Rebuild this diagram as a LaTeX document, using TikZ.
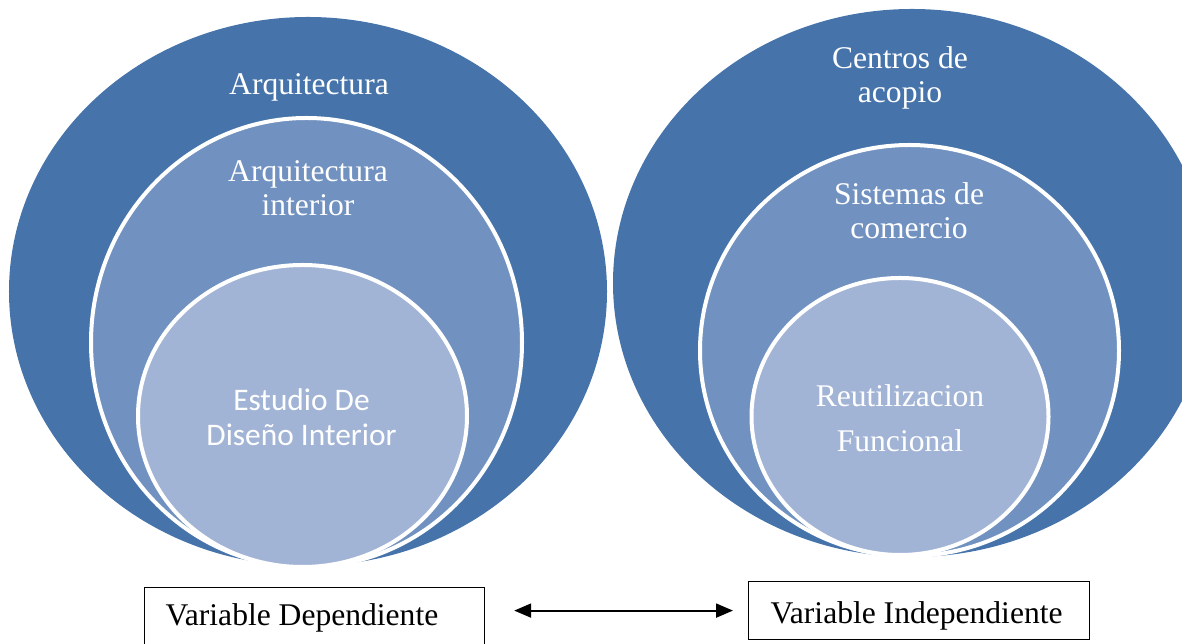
\documentclass[tikz,border=0pt]{standalone}
\usepackage{fontspec}
\setmainfont{Liberation Serif}
\newfontfamily\calibri{Carlito}
\usetikzlibrary{arrows.meta}
\definecolor{ringdark}{RGB}{70,116,170}
\definecolor{ringmid}{RGB}{113,146,193}
\definecolor{ringlight}{RGB}{162,180,213}

\begin{document}
\begin{tikzpicture}[x=1bp,y=1bp,
	ring/.style={fill=#1,draw=white,line width=4bp},
	lbl/.style={text=white,align=center,inner sep=0pt,font=\fontsize{31.7}{34}\selectfont},
	varbox/.style={draw=black,line width=1.2bp,anchor=north west,inner ysep=0pt,font=\fontsize{31.7}{34}\selectfont}]
	\clip (0,0) rectangle (1182,644);
	\fill[ringdark] (308,352.5) ellipse [x radius=299bp,y radius=274.5bp];
	\filldraw[ring=ringmid] (306.5,301.5) ellipse [x radius=215.5bp,y radius=224.5bp];
	\filldraw[ring=ringlight] (302.5,228) ellipse [x radius=164.5bp,y radius=151bp];
	\fill[ringdark] (912,361) ellipse [x radius=299bp,y radius=274bp];
	\filldraw[ring=ringmid] (909.5,293.5) ellipse [x radius=209.5bp,y radius=205.5bp];
	\filldraw[ring=ringlight] (900,227.5) ellipse [x radius=148.5bp,y radius=138.5bp];
	\node[lbl] (arq) at (309,557) {Arquitectura};
	\node[lbl] (arqint) at (308,456) {Arquitectura\\interior};
	\node[lbl,font=\calibri\fontsize{31.5}{35}\selectfont] (estudio) at (301.5,226.5) {Estudio De\\Diseño Interior};
	\node[lbl] (centros) at (900,566) {Centros de\\acopio};
	\node[lbl] (sistemas) at (909,433.5) {Sistemas de\\comercio};
	\node[lbl,font=\fontsize{31.7}{45}\selectfont] (reutil) at (900,225.5) {Reutilizacion\\Funcional};
	\node[varbox,inner xsep=21bp,text height=38bp,text depth=30bp] (dep) at (144,57) {\makebox[298bp][l]{Variable Dependiente}};
	\node[varbox,inner xsep=22bp,text height=42bp,text depth=16bp] (indep) at (748,63) {\makebox[297bp][l]{Variable Independiente}};
	\draw[line width=2bp,{Triangle[length=17bp,width=14bp]}-{Triangle[length=17bp,width=14bp]},shorten <=29bp,shorten >=15bp] (indep.west -| dep.east) -- (indep.west);
\end{tikzpicture}
\end{document}
